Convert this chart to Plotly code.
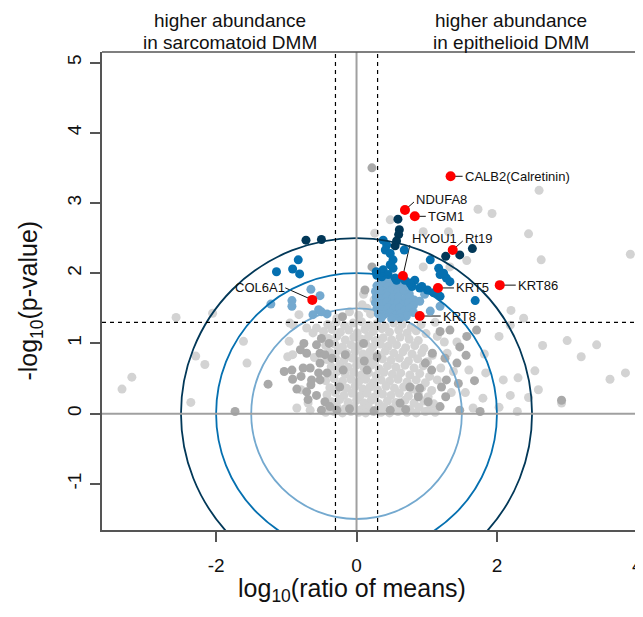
import plotly.graph_objects as go

# ---------------- data (log10 ratio of means, -log10 p) ----------------
light_gray_pts = [
    # dense central cloud
    (-0.41,1.27),(-0.29,1.30),(-0.17,1.25),(-0.05,1.29),(0.07,1.31),(0.18,1.26),(0.29,1.28),(0.41,1.24),(0.53,1.29),(0.65,1.27),(0.78,1.23),(0.92,1.27),
    (-0.47,1.17),(-0.35,1.20),(-0.23,1.16),(-0.11,1.19),(0.01,1.15),(0.12,1.20),(0.24,1.17),(0.36,1.21),(0.47,1.16),(0.60,1.19),(0.72,1.15),(0.85,1.18),(0.99,1.14),
    (-0.40,1.07),(-0.28,1.10),(-0.16,1.05),(-0.04,1.09),(0.07,1.06),(0.17,1.10),(0.27,1.04),(0.38,1.08),(0.50,1.05),(0.62,1.09),(0.75,1.06),(0.88,1.04),
    (-0.44,0.97),(-0.31,0.99),(-0.20,0.95),(-0.08,0.98),(0.03,0.96),(0.13,1.00),(0.23,0.95),(0.34,0.99),(0.45,0.96),(0.57,0.98),(0.70,0.94),(0.83,0.97),(0.96,0.93),
    (-0.38,0.87),(-0.26,0.90),(-0.14,0.86),(-0.02,0.89),(0.09,0.85),(0.19,0.88),(0.30,0.84),(0.41,0.89),(0.53,0.86),(0.66,0.88),(0.79,0.85),(0.93,0.87),(1.08,0.83),
    (-0.42,0.77),(-0.30,0.80),(-0.18,0.76),(-0.06,0.79),(0.05,0.75),(0.16,0.79),(0.26,0.74),(0.37,0.78),(0.49,0.76),(0.61,0.79),(0.74,0.75),(0.87,0.78),(1.01,0.74),
    (-0.36,0.67),(-0.24,0.70),(-0.12,0.66),(0.00,0.69),(0.11,0.65),(0.21,0.69),(0.32,0.64),(0.44,0.68),(0.56,0.66),(0.69,0.69),(0.82,0.65),(0.95,0.68),
    (-0.40,0.57),(-0.28,0.60),(-0.16,0.56),(-0.04,0.59),(0.07,0.55),(0.17,0.58),(0.28,0.54),(0.39,0.59),(0.51,0.56),(0.63,0.58),(0.76,0.55),(0.90,0.57),(1.04,0.53),
    (-0.44,0.47),(-0.32,0.50),(-0.20,0.46),(-0.08,0.49),(0.03,0.45),(0.13,0.49),(0.24,0.44),(0.35,0.48),(0.47,0.46),(0.59,0.49),(0.72,0.45),(0.85,0.48),(0.98,0.44),
    (-0.38,0.37),(-0.26,0.40),(-0.14,0.36),(-0.02,0.39),(0.09,0.35),(0.19,0.38),(0.30,0.34),(0.42,0.39),(0.54,0.36),(0.67,0.38),(0.80,0.35),(0.93,0.37),(1.07,0.33),
    (-0.42,0.27),(-0.30,0.30),(-0.18,0.26),(-0.06,0.29),(0.05,0.25),(0.15,0.29),(0.26,0.24),(0.37,0.28),(0.49,0.26),(0.61,0.29),(0.74,0.25),(0.88,0.28),(1.02,0.24),
    (-0.36,0.17),(-0.24,0.20),(-0.12,0.16),(0.00,0.19),(0.11,0.15),(0.21,0.19),(0.32,0.14),(0.44,0.18),(0.56,0.16),(0.69,0.19),(0.82,0.15),(0.96,0.18),(1.10,0.14),
    (-0.40,0.08),(-0.28,0.10),(-0.16,0.07),(-0.04,0.10),(0.07,0.06),(0.17,0.09),(0.28,0.05),(0.39,0.09),(0.51,0.07),(0.63,0.10),(0.76,0.06),(0.89,0.09),(1.03,0.05),
    (-0.44,0.02),(-0.32,0.03),(-0.20,0.01),(-0.08,0.03),(0.03,0.02),(0.13,0.01),(0.24,0.03),(0.35,0.02),(0.47,0.01),(0.59,0.03),(0.72,0.02),(0.85,0.01),(0.98,0.03),(1.12,0.02),
    # strip between fold-change cut-offs
    (0.08,1.55),(-0.10,1.45),(0.20,1.42),(0.15,1.50),(0.25,1.62),(0.03,1.40),(-0.28,1.36),(0.10,1.70),
    # right fringe / outliers
    (0.48,2.76),(0.26,2.57),(0.95,2.59),(0.95,2.09),(1.31,2.59),(1.33,2.09),(1.57,2.18),(1.73,2.91),
    (1.93,2.85),(2.45,2.56),(2.63,2.19),(2.60,3.18),(3.90,2.27),(2.20,1.47),(2.38,1.36),(2.19,1.26),
    (2.03,1.10),(1.43,1.02),(1.29,0.86),(1.84,0.58),(1.82,0.85),(1.80,0.22),(2.03,0.09),(2.29,0.03),
    (1.66,0.08),(2.19,0.26),(2.45,0.23),(2.59,0.34),(2.09,0.48),(2.30,0.51),(2.54,0.61),(3.61,0.49),
    (3.83,0.58),(2.65,0.97),(3.00,1.04),(3.20,0.81),(3.42,0.98),(2.92,0.15),(1.12,1.30),(1.15,1.10),
    (1.25,1.02),(1.38,0.60),(1.35,0.30),(1.55,0.30),(1.20,0.65),(1.60,0.62),(1.15,0.48),
    # left fringe / outliers
    (-2.57,1.37),(-2.05,1.43),(-1.61,1.03),(-2.29,0.82),(-2.16,0.70),(-1.56,0.72),(-3.20,0.52),
    (-3.34,0.35),(-2.36,0.16),(-0.96,1.03),(-0.91,0.84),(-0.98,0.81),(-0.82,1.41),(-0.90,1.26),
    (-0.95,1.29),(-0.62,1.15),(-0.79,0.34),(-0.85,0.08),(-0.69,0.15),(-0.71,1.22),(-0.57,1.22),
    (-0.60,0.80),(-0.66,0.05),
]

dark_gray_pts = [
    (-0.75,1.00),(-0.80,0.91),(-0.71,0.86),(-0.57,0.98),(-0.50,1.07),(-0.39,1.00),(-0.52,0.86),
    (-0.45,0.84),(-0.35,0.79),(-0.16,0.84),(-0.52,0.72),(-0.66,0.65),(-0.76,0.65),(-0.92,0.62),
    (-1.03,0.60),(-0.91,0.49),(-0.79,0.53),(-0.64,0.48),(-0.52,0.48),(-0.54,0.58),(-0.42,0.58),
    (-1.26,0.42),(-0.85,0.35),(-0.71,0.31),(-0.65,0.41),(-0.57,0.26),(-0.45,0.17),(-0.38,0.10),
    (-0.28,0.05),(-0.50,0.05),(-0.69,0.20),(-0.24,0.38),(-0.19,0.62),(-1.73,0.03),(-0.20,1.38),
    (0.11,0.75),(0.29,0.81),(0.15,0.62),(0.10,1.00),(0.48,0.05),(0.62,0.15),(0.76,0.38),(0.88,0.24),
    (-0.10,0.07),(0.25,0.04),(0.70,0.06),
    (1.19,1.17),(1.33,1.19),(1.47,0.95),(1.26,0.79),(1.43,0.72),(1.07,0.62),(1.28,0.48),(1.02,0.17),
    (1.19,0.10),(1.08,0.86),(0.98,0.72),(0.90,0.36),(1.21,0.38),(1.27,0.24),(1.71,1.19),(1.57,1.10),
    (1.56,0.83),(1.68,0.47),(1.45,0.43),(1.76,0.03),(1.47,0.05),(2.92,0.19),
    (0.22,3.50),(0.22,2.09),(0.12,1.76),
]

light_blue_pts = [
    (-1.22,1.56),(-0.92,1.61),(-0.92,1.53),(-0.65,1.77),(-0.52,1.68),(-0.54,1.48),(-0.42,1.42),(-0.62,1.41),(-0.50,1.45),
    (0.36,1.90),(0.44,1.92),(0.52,1.89),(0.60,1.91),
    (0.29,1.82),(0.37,1.84),(0.45,1.81),(0.53,1.83),(0.61,1.80),(0.68,1.82),
    (0.27,1.74),(0.35,1.75),(0.43,1.72),(0.51,1.76),(0.59,1.73),(0.67,1.75),(0.75,1.71),
    (0.28,1.66),(0.36,1.64),(0.44,1.67),(0.52,1.65),(0.60,1.66),(0.68,1.63),(0.76,1.66),(0.82,1.62),
    (0.27,1.58),(0.35,1.57),(0.43,1.59),(0.51,1.56),(0.59,1.58),(0.67,1.55),(0.74,1.58),(0.81,1.54),
    (0.29,1.50),(0.37,1.48),(0.45,1.51),(0.53,1.49),(0.61,1.50),(0.69,1.47),(0.76,1.50),
    (0.31,1.42),(0.39,1.41),(0.47,1.43),(0.55,1.40),(0.63,1.42),(0.71,1.39),
    (0.35,1.36),(0.50,1.35),(0.62,1.36),
    (0.90,1.60),(1.05,1.46),(1.19,1.53),(0.81,1.44),(0.97,1.70),
]

mid_blue_pts = [
    (-0.83,2.19),(-1.14,2.02),(-0.91,2.06),(-0.81,1.99),
    (0.43,2.40),(0.41,2.33),(0.48,2.28),(0.52,2.19),(0.48,2.12),(0.52,2.07),(0.33,2.00),(0.38,2.05),
    (0.45,1.98),(0.55,1.93),(0.69,1.90),(0.83,1.90),(0.79,1.81),(0.90,1.79),(1.01,1.76),(1.05,2.19),
    (1.17,2.07),(1.19,1.98),(1.28,1.93),(1.33,1.88),(1.19,1.67),(1.69,1.61),(0.68,2.33),(0.38,2.47),
    (0.29,1.97),(0.36,1.95),(0.28,2.02),(0.57,1.90),(0.76,1.86),(0.93,1.81),(1.24,2.00),(1.10,1.72),
]

navy_pts = [
    (-0.72,2.47),(-0.50,2.48),(0.59,2.77),(0.61,2.62),(0.60,2.55),(0.57,2.46),(0.55,2.39),
    (1.27,2.24),(1.47,2.26),(1.65,2.35),
]

label_names = ["CALB2(Calretinin)", "NDUFA8", "TGM1", "HYOU1", "Rt19", "KRT5", "KRT86", "KRT8", "COL6A1"]
label_x = [1.34, 0.69, 0.83, 0.66, 1.37, 1.16, 2.04, 0.90, -0.63]
label_y = [3.38, 2.90, 2.81, 1.96, 2.33, 1.79, 1.83, 1.39, 1.62]

x_ticks = [-2, 0, 2, 4]
y_ticks = [-1, 0, 1, 2, 3, 4, 5]
fc_cut = 0.3
p_cut = 1.301
radii = [1.5, 2.0, 2.5]

# ---------------- style ----------------
FONT = "Liberation Sans, Arial, Helvetica, sans-serif"
C_LGRAY, C_DGRAY = "#d3d3d3", "#a9a9a9"
C_LBLUE, C_MBLUE, C_NAVY, C_RED = "#74a9cf", "#0570b0", "#023858", "#ff0000"
circle_colors = [C_LBLUE, C_MBLUE, C_NAVY]
MS = 9

# label leader-line end (px, y up) and text offsets (px, y up): (lx, ly, tx, ty, anchor)
label_style = {
    "CALB2(Calretinin)": (12, 0, 12, 0, "left"),
    "NDUFA8": (9, 8, 9, 11, "left"),
    "TGM1": (11, 0, 11, 0, "left"),
    "HYOU1": (7, 31, 7, 38, "left"),
    "Rt19": (10, 9, 10, 12, "left"),
    "KRT5": (16, 0, 16, 0, "left"),
    "KRT86": (16, 0, 16, 0, "left"),
    "KRT8": (21, 0, 21, 0, "left"),
    "COL6A1": (-27, 12, -25, 12, "right"),
}

fig = go.Figure()

def add_pts(pts, color, size=MS):
    fig.add_trace(go.Scatter(
        x=[p[0] for p in pts], y=[p[1] for p in pts], mode="markers",
        marker=dict(size=size, color=color, line=dict(width=0)),
        hoverinfo="skip", showlegend=False))

add_pts(light_gray_pts, C_LGRAY)
add_pts(dark_gray_pts, C_DGRAY)
add_pts(light_blue_pts, C_LBLUE)
add_pts(mid_blue_pts, C_MBLUE)
add_pts(navy_pts, C_NAVY)

shapes = []
# circles
for r, c in zip(radii, circle_colors):
    shapes.append(dict(type="circle", xref="x", yref="y", x0=-r, x1=r, y0=-r, y1=r,
                       line=dict(color=c, width=1.8), layer="above"))
# zero lines
shapes.append(dict(type="line", xref="x", yref="paper", x0=0, x1=0, y0=0, y1=1,
                   line=dict(color="#a0a0a0", width=2), layer="above"))
shapes.append(dict(type="line", xref="paper", yref="y", x0=0, x1=1, y0=0, y1=0,
                   line=dict(color="#a0a0a0", width=2), layer="above"))
# cut-off lines
for xv in (-fc_cut, fc_cut):
    shapes.append(dict(type="line", xref="x", yref="paper", x0=xv, x1=xv, y0=0, y1=1,
                       line=dict(color="black", width=1.2, dash="4px,4px"), layer="above"))
shapes.append(dict(type="line", xref="paper", yref="y", x0=0, x1=1, y0=p_cut, y1=p_cut,
                   line=dict(color="black", width=1.2, dash="4px,4px"), layer="above"))
# top border
shapes.append(dict(type="line", xref="paper", yref="paper", x0=0, x1=1, y0=1, y1=1,
                   line=dict(color="#555555", width=1.5), layer="above"))
# label leader lines (pixel-sized, anchored at each labelled point)
for name, xv, yv in zip(label_names, label_x, label_y):
    lx, ly, tx, ty, anc = label_style[name]
    shapes.append(dict(type="line", xref="x", yref="y", xsizemode="pixel", ysizemode="pixel",
                       xanchor=xv, yanchor=yv, x0=0, y0=0, x1=lx, y1=ly,
                       line=dict(color="#111111", width=1), layer="below"))

# red labelled points on top
add_pts(list(zip(label_x, label_y)), C_RED, MS + 1)

annotations = []
for name, xv, yv in zip(label_names, label_x, label_y):
    lx, ly, tx, ty, anc = label_style[name]
    annotations.append(dict(x=xv, y=yv, xref="x", yref="y", text=name, showarrow=False,
                            xanchor=anc, yanchor="middle", xshift=tx, yshift=ty,
                            font=dict(family=FONT, size=13, color="#111111")))

# header texts
for xv, l1, l2 in ((-1.8, "higher abundance", "in sarcomatoid DMM"),
                   (2.2, "higher abundance", "in epithelioid DMM")):
    annotations.append(dict(x=xv, y=1.066, xref="x", yref="paper", text=l1, showarrow=False,
                            xanchor="center", yanchor="middle",
                            font=dict(family=FONT, size=19, color="#111111")))
    annotations.append(dict(x=xv, y=1.020, xref="x", yref="paper", text=l2, showarrow=False,
                            xanchor="center", yanchor="middle",
                            font=dict(family=FONT, size=19, color="#111111")))

# axis titles
annotations.append(dict(x=0.462, y=-0.1255, xref="paper", yref="paper",
                        text="log<sub>10</sub>(ratio of means)", showarrow=False,
                        xanchor="center", yanchor="middle",
                        font=dict(family=FONT, size=25, color="#111111")))
annotations.append(dict(x=-0.133, y=0.48, xref="paper", yref="paper",
                        text="-log<sub>10</sub>(p-value)", showarrow=False, textangle=-90,
                        xanchor="center", yanchor="middle",
                        font=dict(family=FONT, size=25, color="#111111")))

# the page body adds an 8 px offset; margins compensate so the plot sits at 102..643 x 52..530
fig.update_layout(
    width=643, height=617,
    margin=dict(l=94, r=8, t=44, b=95, autoexpand=False),
    paper_bgcolor="white", plot_bgcolor="white",
    shapes=shapes, annotations=annotations, showlegend=False,
    xaxis=dict(range=[-3.625, 4.08], tickvals=x_ticks, ticktext=[str(v) for v in x_ticks],
               ticks="outside", ticklen=10, tickwidth=1.5, tickcolor="#555555",
               showline=True, linecolor="#555555", linewidth=1.5, automargin=False,
               showgrid=False, zeroline=False, ticklabelstandoff=7,
               tickfont=dict(family=FONT, size=19, color="#111111")),
    yaxis=dict(range=[-1.657, 5.15], tickvals=y_ticks, ticktext=[str(v) for v in y_ticks],
               ticks="outside", ticklen=10, tickwidth=1.5, tickcolor="#555555",
               showline=True, linecolor="#555555", linewidth=1.5, tickangle=-90, automargin=False,
               showgrid=False, zeroline=False, ticklabelstandoff=2,
               tickfont=dict(family=FONT, size=19, color="#111111")),
)

fig.write_html("out.html")
